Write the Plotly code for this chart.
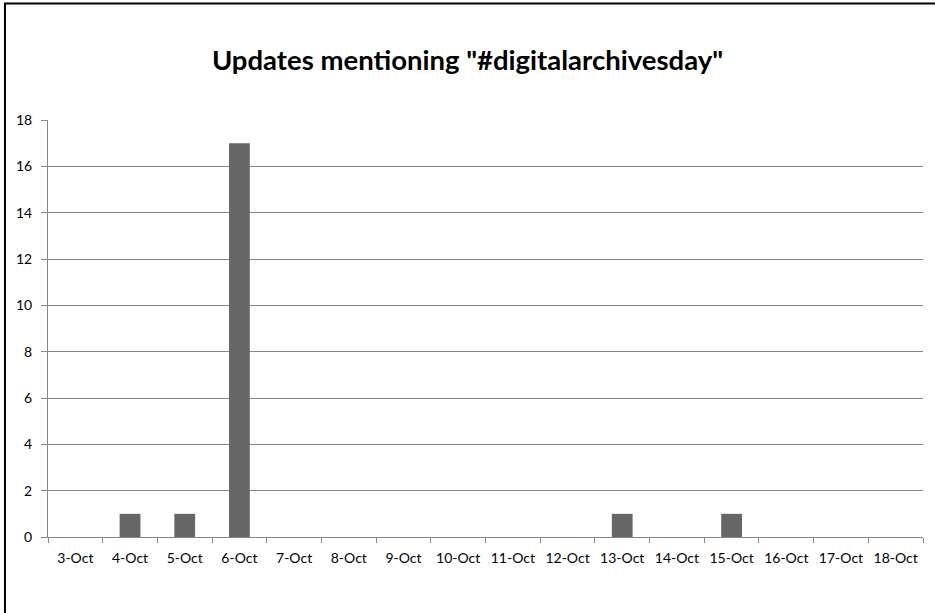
import plotly.graph_objects as go

categories = ["3-Oct", "4-Oct", "5-Oct", "6-Oct", "7-Oct", "8-Oct", "9-Oct", "10-Oct",
              "11-Oct", "12-Oct", "13-Oct", "14-Oct", "15-Oct", "16-Oct", "17-Oct", "18-Oct"]
values = [0, 1, 1, 17, 0, 0, 0, 0, 0, 0, 1, 0, 1, 0, 0, 0]
y_ticks = [0, 2, 4, 6, 8, 10, 12, 14, 16, 18]

grid_color = "#868686"
font_family = "Lato, 'Open Sans', sans-serif"

fig = go.Figure(go.Bar(x=categories, y=values, marker=dict(color="#666666", line=dict(width=0)),
                       width=0.38))

fig.update_layout(
    width=935, height=613,
    margin=dict(l=48, r=12, t=120, b=76),
    paper_bgcolor="white", plot_bgcolor="white",
    showlegend=False,
    bargap=0.6,
    title=dict(text='<b>Updates mentioning "#digitalarchivesday"</b>', x=0.5, xanchor="center",
               y=1 - 60 / 613, yanchor="middle",
               font=dict(family=font_family, size=27.5, color="black")),
    font=dict(family=font_family, size=14, color="black"),
    xaxis=dict(type="category", showgrid=False, showline=True, linecolor=grid_color, linewidth=1,
               ticks="outside", tickson="boundaries", ticklen=5, tickcolor=grid_color,
               ticklabelstandoff=8,
               tickfont=dict(size=14, color="black"), zeroline=False, fixedrange=True),
    yaxis=dict(range=[0, 18], tickvals=y_ticks, showgrid=True, gridcolor=grid_color, gridwidth=1,
               showline=True, linecolor=grid_color, linewidth=1, ticks="outside", ticklen=6,
               tickcolor=grid_color, ticklabelstandoff=6,
               tickfont=dict(size=14, color="black"), zeroline=False,
               fixedrange=True),
    shapes=[dict(type="rect", xref="paper", yref="paper", x0=-0.0492, x1=1.05, y0=-0.25, y1=1.2794,
                 line=dict(color="black", width=2), fillcolor="rgba(0,0,0,0)", layer="below")],
)

fig.write_html("out.html", config={"displayModeBar": False},
               post_script="document.body.style.margin='0';")
